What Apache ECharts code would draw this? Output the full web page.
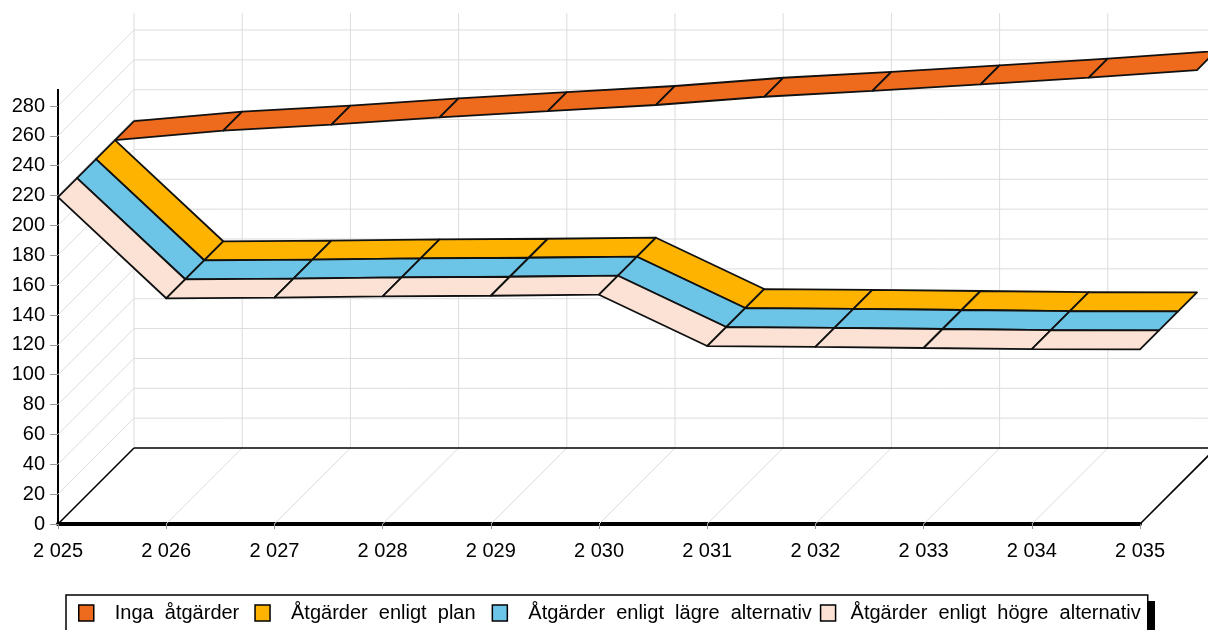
<!DOCTYPE html>
<html>
<head>
<meta charset="utf-8">
<script src="https://cdn.jsdelivr.net/npm/echarts@6/dist/echarts.min.js"></script>
<style>
html,body{margin:0;padding:0;background:#fff;}
#chart{width:1208px;height:630px;}
</style>
</head>
<body>
<div id="chart"></div>
<script>
// ---- data ----
const years = [2025, 2026, 2027, 2028, 2029, 2030, 2031, 2032, 2033, 2034, 2035];
const xTickLabels = ['2 025', '2 026', '2 027', '2 028', '2 029', '2 030', '2 031', '2 032', '2 033', '2 034', '2 035'];
const yTicks = [0, 20, 40, 60, 80, 100, 120, 140, 160, 180, 200, 220, 240, 260, 280];
const seriesNames = ['Inga åtgärder', 'Åtgärder enligt plan', 'Åtgärder enligt lägre alternativ', 'Åtgärder enligt högre alternativ'];
const ingaAtgarder = [219, 225.3, 229.4, 234.2, 238.4, 242.5, 248.0, 252.0, 256.3, 260.8, 265.9];
const enligtPlan   = [219, 151.2, 151.6, 152.5, 152.9, 153.6, 119.2, 118.6, 117.9, 117.2, 117.0];
const lagreAlt     = [219, 151.2, 151.6, 152.5, 152.9, 153.6, 119.2, 118.6, 117.9, 117.2, 117.0];
const hogreAlt     = [219, 151.2, 151.6, 152.5, 152.9, 153.6, 119.2, 118.6, 117.9, 117.2, 117.0];
const colors = ['#EE6A1C', '#FDB300', '#6CC4E6', '#FBE2D5'];

// ---- 3D look ----
const STEP = [19, -19];           // depth offset of one series slot
const NSLOT = 4;
const D = [STEP[0] * NSLOT, STEP[1] * NSLOT];
const FONT = 'Liberation Sans, Arial, sans-serif';
const TOP_EXT = 17;               // axis/wall extension above the top tick (px)

function ribbon(name, values, depth, color) {
  const data = years.slice(0, -1).map((y, i) => [y, values[i], years[i + 1], values[i + 1]]);
  return {
    type: 'custom',
    name: name,
    data: data,
    encode: { x: [0, 2], y: [1, 3] },
    itemStyle: { color: color, borderColor: '#000', borderWidth: 1 },
    z: 3,
    renderItem: function (params, api) {
      const p0 = api.coord([api.value(0), api.value(1)]);
      const p1 = api.coord([api.value(2), api.value(3)]);
      const ox = depth * STEP[0], oy = depth * STEP[1];
      const pts = [
        [p0[0] + ox, p0[1] + oy],
        [p1[0] + ox, p1[1] + oy],
        [p1[0] + ox + STEP[0], p1[1] + oy + STEP[1]],
        [p0[0] + ox + STEP[0], p0[1] + oy + STEP[1]]
      ];
      return {
        type: 'polygon',
        shape: { points: pts },
        style: { fill: color, stroke: '#111', lineWidth: 1.8, lineJoin: 'round' }
      };
    }
  };
}

const walls = {
  type: 'custom',
  name: 'walls',
  silent: true,
  z: 1,
  data: [[years[0], 0]],
  encode: { x: 0, y: 1 },
  renderItem: function (params, api) {
    const ch = [];
    const grid = '#dcdcdc';
    const x0 = years[0], x1 = years[years.length - 1];
    const yTop = yTicks[yTicks.length - 1];
    function line(a, b, color, w) {
      ch.push({ type: 'line', shape: { x1: a[0], y1: a[1], x2: b[0], y2: b[1] }, style: { stroke: color, lineWidth: w } });
    }
    function add(p) { return [p[0] + D[0], p[1] + D[1]]; }
    yTicks.forEach(function (v) {
      if (v === 0) return;
      const a = api.coord([x0, v]);
      const b = api.coord([x1, v]);
      line(a, add(a), grid, 1);
      line(add(a), add(b), grid, 1);
    });
    years.forEach(function (x) {
      const a = api.coord([x, 0]);
      const t = api.coord([x, yTop]);
      if (x !== x0 && x !== x1) line(a, add(a), grid, 1);
      const ta = add(t);
      line(add(a), [ta[0], ta[1] - TOP_EXT], grid, 1);
    });
    const f0 = api.coord([x0, 0]);
    const f1 = api.coord([x1, 0]);
    line(f0, add(f0), '#000', 1.6);
    line(add(f0), add(f1), '#000', 1.6);
    line(f1, add(f1), '#000', 1.6);
    const yt = api.coord([x0, yTop]);
    line([yt[0], yt[1]], [yt[0], yt[1] - TOP_EXT], '#000', 2);
    return { type: 'group', children: ch };
  }
};

const series = [walls,
  ribbon(seriesNames[0], ingaAtgarder, 3, colors[0]),
  ribbon(seriesNames[1], enligtPlan, 2, colors[1]),
  ribbon(seriesNames[2], lagreAlt, 1, colors[2]),
  ribbon(seriesNames[3], hogreAlt, 0, colors[3])
];

const legendLeftPad = [16, 16, 16, 10];
const legendTrail = [7, 8, 0, 0];
const rich = {};
legendLeftPad.forEach(function (p, i) {
  rich['t' + i] = { padding: [0, 0, 0, p], fontSize: 20, fontFamily: FONT, color: '#000' };
  rich['s' + i] = { padding: [0, 0, 0, legendTrail[i]], fontSize: 20, fontFamily: FONT, color: '#000' };
});

const option = {
  animation: false,
  backgroundColor: '#fff',
  grid: { left: 58, right: 68, top: 106, bottom: 106, containLabel: false },
  graphic: [{
    type: 'rect', z: 0, silent: true,
    shape: { x: 73, y: 601, width: 1082, height: 60 },
    style: { fill: '#000' }
  }],
  xAxis: {
    type: 'value', min: 2025, max: 2035, interval: 1,
    axisLine: { show: true, onZero: false, lineStyle: { color: '#000', width: 4 } },
    axisTick: { show: true, length: 5, inside: false, lineStyle: { color: '#999', width: 1 } },
    axisLabel: {
      margin: 17, fontSize: 20, color: '#000', fontFamily: FONT,
      formatter: function (v) { const i = years.indexOf(v); return i >= 0 ? xTickLabels[i] : ''; }
    },
    splitLine: { show: false }
  },
  yAxis: {
    type: 'value', min: 0, max: 280, interval: 20,
    axisLine: { show: true, lineStyle: { color: '#000', width: 2 } },
    axisTick: { show: true, length: 8, inside: false, lineStyle: { color: '#999', width: 1 } },
    axisLabel: { margin: 13, fontSize: 20, color: '#000', fontFamily: FONT },
    splitLine: { show: false }
  },
  legend: {
    left: 66, top: 595, z: 5,
    orient: 'horizontal',
    padding: [8, 7, 30, 12],
    itemWidth: 15, itemHeight: 16, itemGap: 8,
    icon: 'rect',
    borderColor: '#000', borderWidth: 1.5,
    backgroundColor: '#fff',
    itemStyle: { borderColor: '#000', borderWidth: 1.5 },
    textStyle: { fontSize: 20, color: '#000', fontFamily: FONT, rich: rich },
    formatter: function (name) {
      const i = seriesNames.indexOf(name);
      const s = legendTrail[i] > 0 ? '{s' + i + '|\u200b}' : '';
      return '{t' + i + '|' + name.replace(/ /g, '  ') + '}' + s;
    },
    data: seriesNames.map(function (n, i) {
      return { name: n, itemStyle: { color: colors[i], borderColor: '#000', borderWidth: 1.5 } };
    })
  },
  series: series
};

const chart = echarts.init(document.getElementById('chart'), null, { renderer: 'canvas' });
chart.setOption(option);
</script>
</body>
</html>
